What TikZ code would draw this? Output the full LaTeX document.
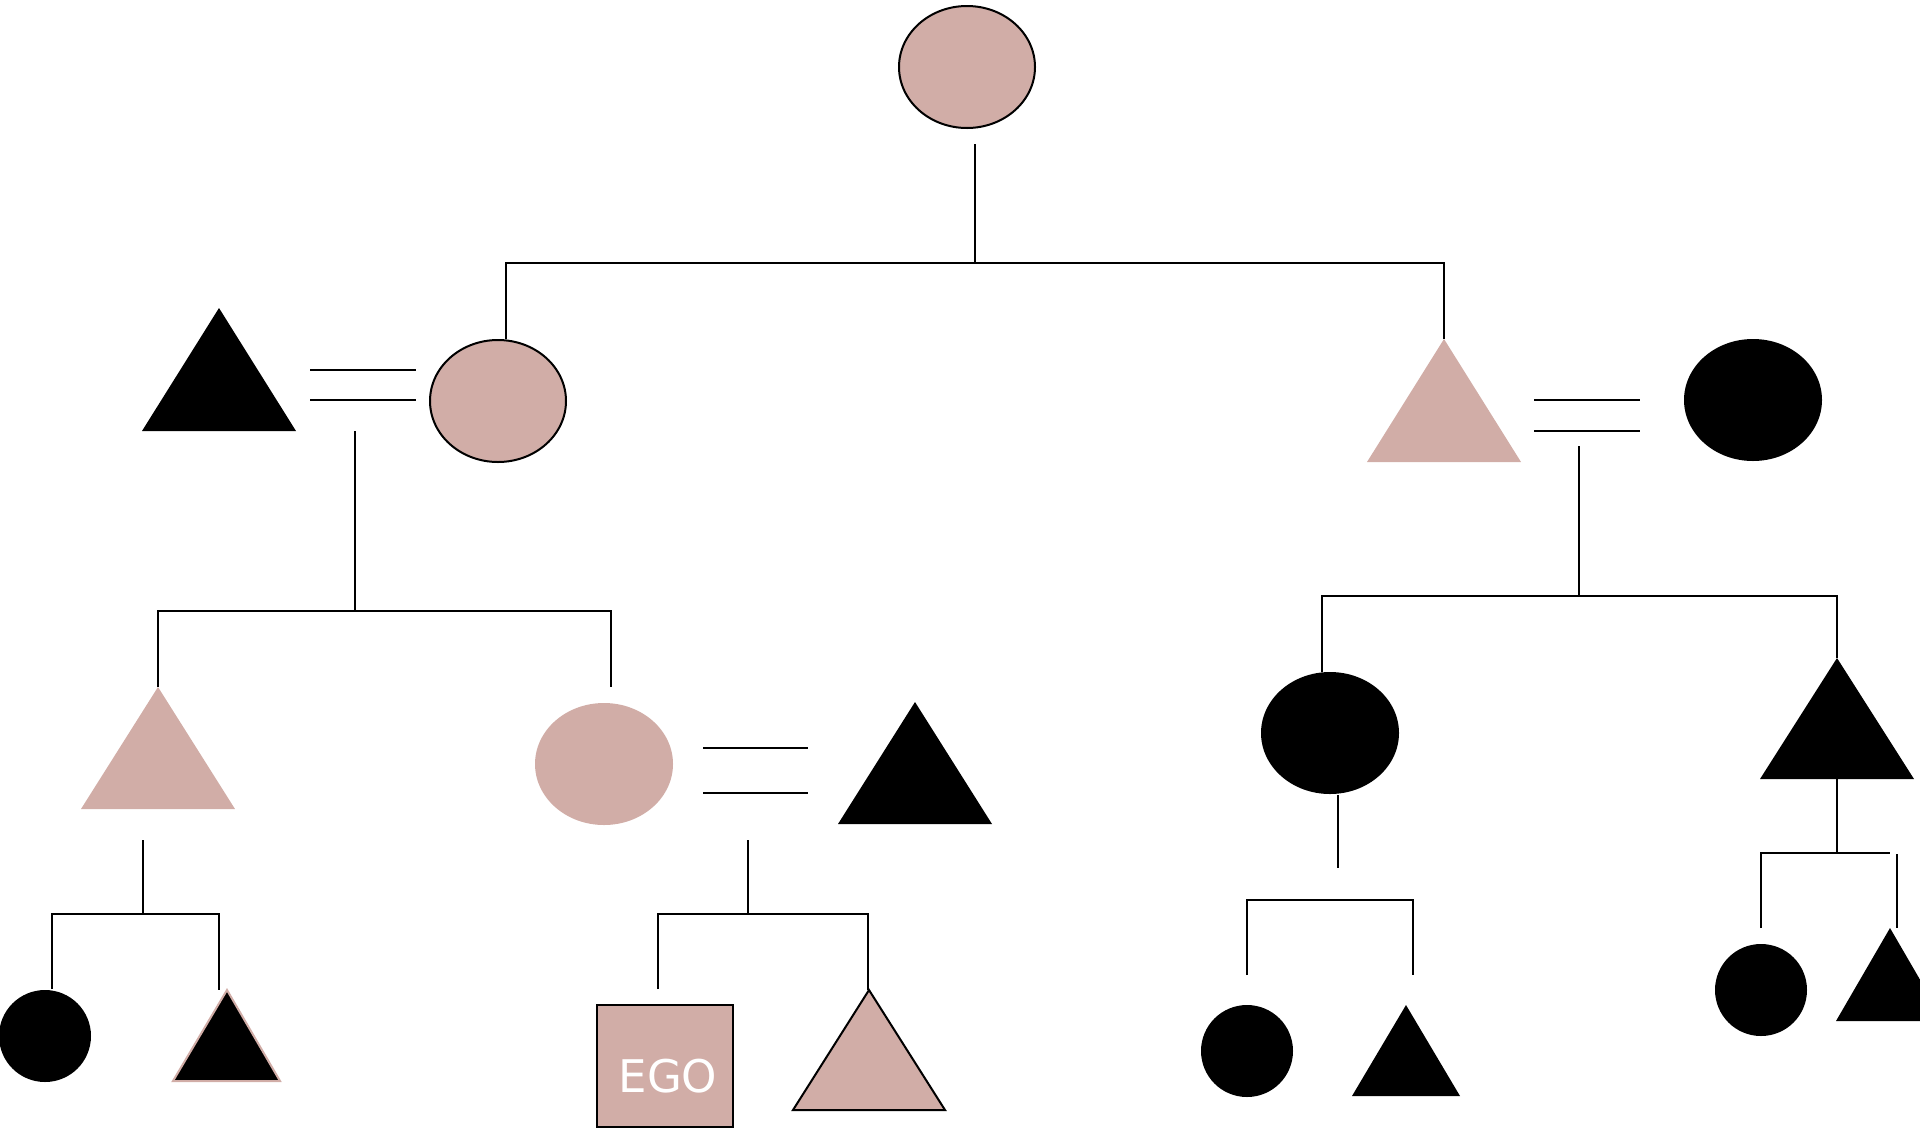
\documentclass[tikz,border=0pt]{standalone}
\usepackage{fontspec}
\setmainfont{DejaVu Sans}
\definecolor{kin}{RGB}{209,173,167}
\begin{document}
\begin{tikzpicture}[x=1pt,y=-1pt,
  ln/.style={black,line width=2pt},
  pinkS/.style={fill=kin,draw=black,line width=2pt},
  pinkN/.style={fill=kin},
  blk/.style={fill=black},
  blkP/.style={fill=black,draw=kin,line width=2pt}]
\useasboundingbox (0,0) rectangle (1920,1128);
\clip (0,0) rectangle (1920,1128);
% generation 1
\path[pinkS] (967,67) ellipse [x radius=68, y radius=61];
\coordinate (g1) at (975,144);
\coordinate (g1j) at (975,263);
\coordinate (g1l) at (506,263);
\coordinate (g1r) at (1444,263);
\draw[ln] (g1) -- (g1j);
\draw[ln] (g1l |- 0,339) -- (g1l) -- (g1r) -- (g1r |- 0,339);
% generation 2 left
\path[blk] (219,308) -- (296,431) -- (142,431) -- cycle;
\path[pinkS] (498,401) ellipse [x radius=68, y radius=61];
\draw[ln] (310,370) -- (416,370);
\draw[ln] (310,400) -- (416,400);
\coordinate (m1) at (355,431);
\coordinate (m1j) at (355,611);
\draw[ln] (m1) -- (m1j);
\draw[ln] (158,687) -- (158,611) -- (611,611) -- (611,687);
% generation 2 right
\path[pinkN] (1444,339) -- (1521,462) -- (1367,462) -- cycle;
\path[blk] (1753,400) ellipse [x radius=69, y radius=61];
\draw[ln] (1534,400) -- (1640,400);
\draw[ln] (1534,431) -- (1640,431);
\coordinate (m2) at (1579,446);
\coordinate (m2j) at (1579,596);
\draw[ln] (m2) -- (m2j);
\draw[ln] (1322,672) -- (1322,596) -- (1837,596) -- (1837,658);
% generation 3 left
\path[pinkN] (158,687) -- (235,809) -- (81,809) -- cycle;
\draw[ln] (143,840) -- (143,914);
\draw[ln] (52,989) -- (52,914) -- (219,914) -- (219,990);
\path[pinkN] (604,764) ellipse [x radius=69, y radius=61];
\draw[ln] (703,748) -- (808,748);
\draw[ln] (703,793) -- (808,793);
\path[blk] (915,702) -- (992,824) -- (838,824) -- cycle;
\draw[ln] (748,840) -- (748,914);
\draw[ln] (658,989) -- (658,914) -- (868,914) -- (868,990);
% generation 3 right
\path[blk] (1330,733) ellipse [x radius=69, y radius=61];
\draw[ln] (1338,795) -- (1338,868);
\draw[ln] (1247,975) -- (1247,900) -- (1413,900) -- (1413,975);
\path[blk] (1837,658) -- (1914,779) -- (1760,779) -- cycle;
\draw[ln] (1837,779) -- (1837,853);
\draw[ln] (1761,928) -- (1761,853) -- (1890,853);
\draw[ln] (1897,854) -- (1897,928);
% generation 4
\path[blk] (45,1036) circle [radius=46];
\path[blkP] (227,990) -- (280,1081) -- (173,1081) -- cycle;
\path[pinkS] (597,1005) rectangle (733,1127);
\node[anchor=base,text=white,font=\fontsize{45}{54}\selectfont,inner sep=0pt] (ego) at (668,1092) {EGO};
\path[pinkS] (869,990) -- (945,1110) -- (793,1110) -- cycle;
\path[blk] (1247,1051) circle [radius=46];
\path[blk] (1406,1005) -- (1460,1096) -- (1352,1096) -- cycle;
\path[blk] (1761,990) circle [radius=46];
\path[blk] (1890,928) -- (1944,1021) -- (1836,1021) -- cycle;
\end{tikzpicture}
\end{document}
